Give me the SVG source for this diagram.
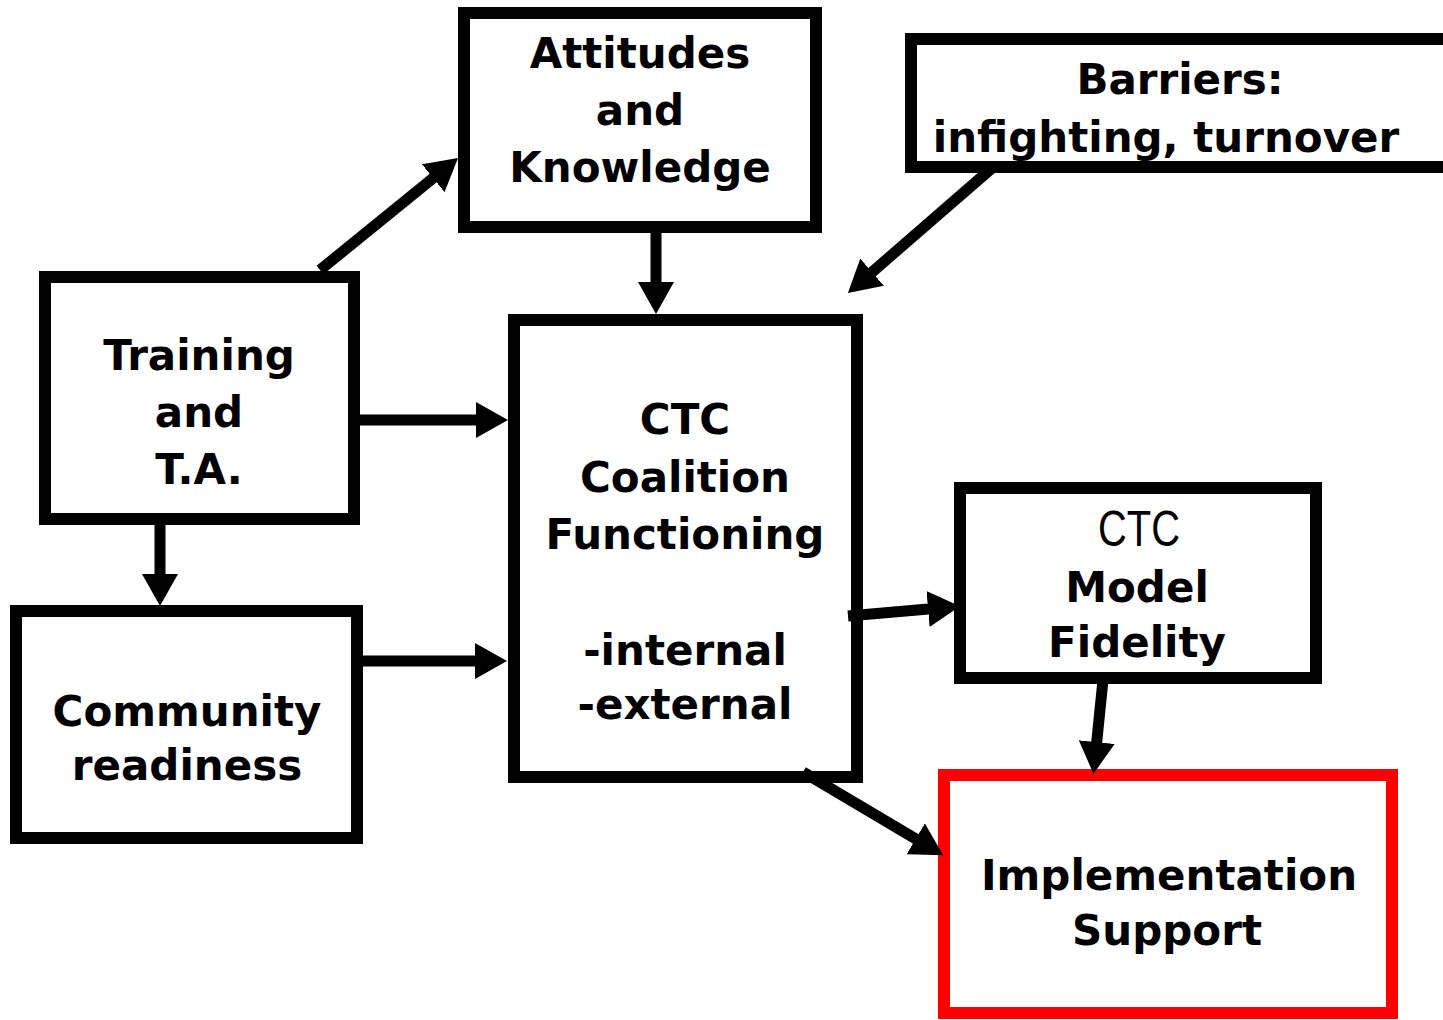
<svg xmlns="http://www.w3.org/2000/svg" width="1443" height="1020" viewBox="0 0 1443 1020">
  <style>
    .box { fill: #fff; stroke: #000; stroke-width: 12; }
    .red { stroke: #ff0000; }
    .lbl { font-family: "DejaVu Sans", Verdana, sans-serif; font-weight: bold; font-size: 42px; fill: #000; text-anchor: middle; }
    .thin { font-family: "Liberation Sans Narrow", "Liberation Sans", sans-serif; font-weight: normal; font-size: 50px; }
    .conn { stroke: #000; stroke-width: 11; fill: none; marker-end: url(#head); }
  </style>
  <defs>
    <marker id="head" viewBox="0 0 32 36" refX="12" refY="18" markerWidth="32" markerHeight="36" markerUnits="userSpaceOnUse" orient="auto">
      <path d="M0,0 L32,18 L0,36 Z" fill="#000"/>
    </marker>
  </defs>

  <rect width="1443" height="1020" fill="#fff"/>

  <g id="attitudes">
    <rect class="box" x="464" y="13" width="352" height="214"/>
    <text class="lbl" x="640" y="68">Attitudes</text>
    <text class="lbl" x="640" y="125">and</text>
    <text class="lbl" x="640" y="182">Knowledge</text>
  </g>

  <g id="barriers">
    <rect class="box" x="911" y="39" width="600" height="128"/>
    <text class="lbl" x="1180" y="94">Barriers:</text>
    <text class="lbl" x="1166" y="152">infighting, turnover</text>
  </g>

  <g id="training">
    <rect class="box" x="45" y="277" width="309" height="242"/>
    <text class="lbl" x="199" y="370">Training</text>
    <text class="lbl" x="199" y="427">and</text>
    <text class="lbl" x="199" y="484">T.A.</text>
  </g>

  <g id="community">
    <rect class="box" x="16" y="611" width="341" height="227"/>
    <text class="lbl" x="187" y="726">Community</text>
    <text class="lbl" x="187" y="780">readiness</text>
  </g>

  <g id="coalition">
    <rect class="box" x="514" y="320" width="343" height="457"/>
    <text class="lbl" x="685" y="434">CTC</text>
    <text class="lbl" x="685" y="492">Coalition</text>
    <text class="lbl" x="685" y="549">Functioning</text>
    <text class="lbl" x="685" y="665">-internal</text>
    <text class="lbl" x="685" y="719">-external</text>
  </g>

  <g id="fidelity">
    <rect class="box" x="960" y="488" width="356" height="190"/>
    <text class="lbl thin" x="1139" y="546" textLength="82" lengthAdjust="spacingAndGlyphs">CTC</text>
    <text class="lbl" x="1137" y="602">Model</text>
    <text class="lbl" x="1137" y="657">Fidelity</text>
  </g>

  <g id="implementation">
    <rect class="box red" x="944" y="775" width="448" height="238"/>
    <text class="lbl" x="1169" y="890">Implementation</text>
    <text class="lbl" x="1167" y="945">Support</text>
  </g>

  <g id="connectors">
    <line class="conn" x1="320" y1="270" x2="442.5" y2="170.6"/>
    <line class="conn" x1="656" y1="233" x2="656" y2="294"/>
    <line class="conn" x1="992" y1="168" x2="863" y2="280"/>
    <line class="conn" x1="360" y1="420" x2="488" y2="420"/>
    <line class="conn" x1="160" y1="524" x2="160" y2="586"/>
    <line class="conn" x1="363" y1="661" x2="487" y2="661"/>
    <line class="conn" x1="848" y1="616" x2="940" y2="608"/>
    <line class="conn" x1="1103" y1="680" x2="1095.5" y2="754"/>
    <line class="conn" x1="803" y1="772" x2="926" y2="845"/>
  </g>
</svg>
